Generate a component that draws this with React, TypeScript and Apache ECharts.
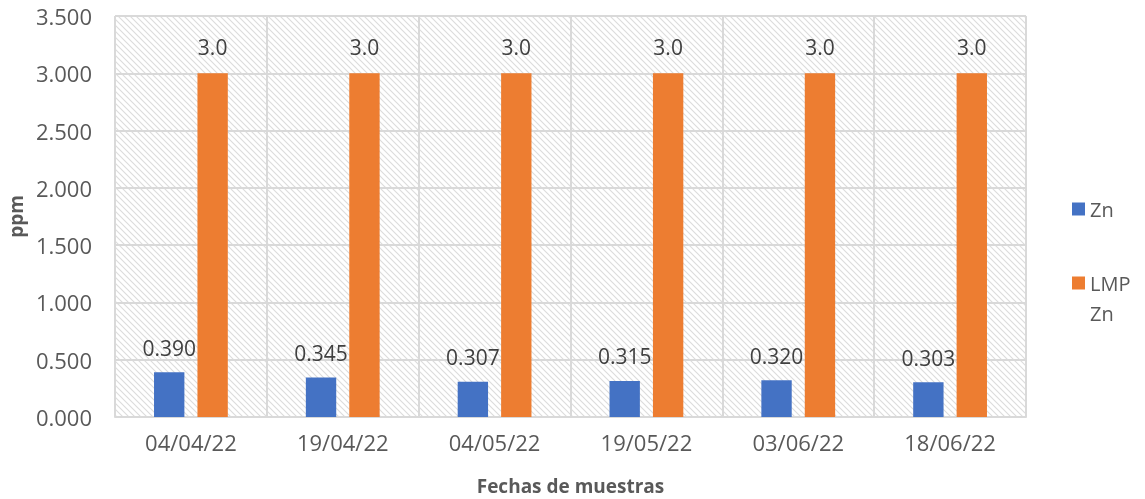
import React, { useEffect, useRef } from "react";
import * as echarts from "echarts";

const categories = ["04/04/22", "19/04/22", "04/05/22", "19/05/22", "03/06/22", "18/06/22"];
const znValues = [0.39, 0.345, 0.307, 0.315, 0.32, 0.303];
const lmpValues = [3.0, 3.0, 3.0, 3.0, 3.0, 3.0];
const seriesNames = ["Zn", "LMP Zn"];
const yTicks = { min: 0, max: 3.5, interval: 0.5 };

const FONT = "'Open Sans', 'Noto Sans', sans-serif";

const hatchSvg =
  "<svg xmlns='http://www.w3.org/2000/svg' width='6' height='6'>" +
  "<rect width='6' height='6' fill='#ffffff'/>" +
  "<path d='M-1,-1 L7,7 M-1,5 L1,7 M5,-1 L7,1' stroke='#dcdcdc' stroke-width='1.1'/>" +
  "</svg>";
const hatchUrl = "data:image/svg+xml;charset=utf-8," + encodeURIComponent(hatchSvg);

export default function App() {
  const ref = useRef<HTMLDivElement>(null);
  useEffect(() => {
    if (!ref.current) return;
    const chart = echarts.init(ref.current, undefined, { renderer: "svg" });
    chart.setOption({
      animation: false,
      textStyle: { fontFamily: FONT },
      grid: {
        left: 115,
        right: 119,
        top: 16,
        bottom: 82,
        containLabel: false,
        outerBoundsMode: "none",
        show: true,
        borderWidth: 0,
        backgroundColor: {
          image: hatchUrl,
          repeat: "repeat",
          imageWidth: 6,
          imageHeight: 6,
        } as any,
      } as any,
      legend: {
        orient: "vertical",
        left: 1067,
        top: 189,
        itemWidth: 13,
        itemHeight: 13,
        itemGap: 14,
        icon: "rect",
        data: seriesNames,
        formatter: (name: string) => (name === "LMP Zn" ? " \nLMP\nZn" : name),
        textStyle: { fontSize: 20, color: "#595959", lineHeight: 30, fontFamily: FONT },
      },
      xAxis: {
        type: "category",
        data: categories,
        name: "Fechas de muestras",
        nameLocation: "middle",
        nameGap: 59,
        nameTextStyle: { fontSize: 19, fontWeight: "bold", color: "#595959", fontFamily: FONT },
        axisLine: { show: true, lineStyle: { color: "#d9d9d9", width: 2 } },
        axisTick: { show: false },
        axisLabel: { fontSize: 22, color: "#595959", margin: 14, fontFamily: FONT },
        splitLine: { show: true, lineStyle: { color: "#d9d9d9", width: 2 } },
      },
      yAxis: {
        type: "value",
        min: yTicks.min,
        max: yTicks.max,
        interval: yTicks.interval,
        name: "ppm",
        nameLocation: "middle",
        nameRotate: 90,
        nameGap: 85,
        nameTextStyle: { fontSize: 19, fontWeight: "bold", color: "#595959", fontFamily: FONT },
        axisLine: { show: false },
        axisTick: { show: false },
        axisLabel: {
          fontSize: 22,
          color: "#595959",
          margin: 23,
          fontFamily: FONT,
          formatter: (v: number) => v.toFixed(3),
        },
        splitLine: { show: true, lineStyle: { color: "#d9d9d9", width: 2 } },
      },
      series: [
        {
          name: seriesNames[0],
          type: "bar",
          data: znValues,
          barWidth: "20%",
          barGap: "43%",
          itemStyle: { color: "#4472C4" },
          label: {
            show: true,
            position: "top",
            distance: 14,
            fontSize: 21,
            color: "#404040",
            fontFamily: FONT,
            formatter: (p: any) => Number(p.value).toFixed(3),
          },
        },
        {
          name: seriesNames[1],
          type: "bar",
          data: lmpValues,
          barWidth: "20%",
          itemStyle: { color: "#ED7D31" },
          label: {
            show: true,
            position: "top",
            distance: 16,
            fontSize: 21,
            color: "#404040",
            fontFamily: FONT,
            formatter: (p: any) => Number(p.value).toFixed(1),
          },
        },
      ],
    });
    return () => chart.dispose();
  }, []);
  return (
    <div
      ref={ref}
      style={{ position: "fixed", left: 0, top: 0, width: 1145, height: 499 }}
    />
  );
}
